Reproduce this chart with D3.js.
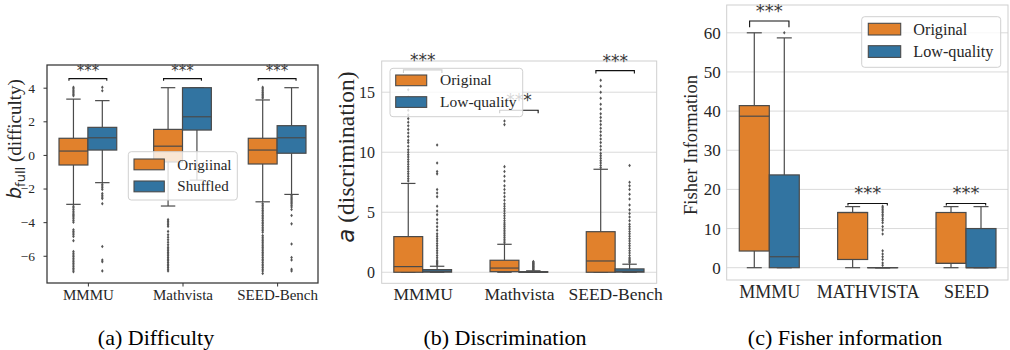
<!DOCTYPE html>
<html>
<head>
<meta charset="utf-8">
<script src="https://cdn.jsdelivr.net/npm/d3@7/dist/d3.min.js"></script>
<style>
  html, body { margin: 0; padding: 0; background: #fff; }
  svg { display: block; }
</style>
</head>
<body>
<svg id="chart"></svg>
<script>
// ---- data ----
// box stats are [whisker low, q1, median, q3, whisker high]

// (a) difficulty
const catsA = ["MMMU", "Mathvista", "SEED-Bench"];
const diffTicks = [-6, -4, -2, 0, 2, 4];
const diffOrig = [
  [-2.94, -0.6, 0.23, 0.99, 3.32],
  [-3.04, -0.42, 0.52, 1.52, 4.0],
  [-2.79, -0.54, 0.29, 0.99, 3.27]
];
const diffShuf = [
  [-1.65, 0.29, 1.02, 1.64, 3.23],
  [-1.5, 1.48, 2.27, 4.0, 4.0],
  [-2.35, 0.1, 1.02, 1.74, 4.0]
];
const diffOrigOut = [
  [4.02, 3.93, 3.85, 3.76, 3.68, 3.6, 3.52, -3.05, -3.15, -3.25, -3.35, -3.45, -3.55, -3.62, -3.7, -3.8, -3.9, -4.0,
   -4.45, -4.55, -4.65, -4.75, -4.85, -5.1, -5.75, -5.85, -5.95, -6.05, -6.15, -6.25, -6.35, -6.45, -6.55,
   -6.65, -6.75, -6.85, -6.95],
  [-3.85, -3.95, -4.05, -4.15, -4.25, -4.55, -4.75, -4.9, -5.05, -5.2, -5.35, -5.5, -5.6, -5.7, -5.8, -5.9,
   -6.0, -6.1, -6.2, -6.3, -6.4, -6.5, -6.6, -6.7, -6.8, -6.9],
  [4.02, 3.93, 3.85, 3.75, 3.68, 3.6, 3.52, 3.45, 3.38, -2.9, -3.0, -3.1, -3.2, -3.3, -3.4, -3.5, -3.6, -3.7,
   -3.8, -3.9, -4.0, -4.1, -4.2, -4.3, -4.4, -4.5, -4.6, -4.8, -4.9, -5.0, -5.1, -5.2, -5.3, -5.4, -5.5,
   -5.6, -5.7, -5.8, -5.9, -6.0, -6.1, -6.2, -6.3, -6.4, -6.5, -6.6, -6.7, -6.8, -6.9, -7.05]
];
const diffShufOut = [
  [4.02, 3.82, -1.75, -1.85, -1.95, -2.05, -2.3, -2.4, -2.5, -2.6, -2.9, -5.45, -6.25, -6.35, -6.9],
  [],
  [-2.42, -2.5, -2.58, -2.66, -2.74, -2.82, -2.9, -3.0, -3.1, -3.25, -3.6, -4.1, -5.3, -6.1, -6.25, -6.8, -6.9]
];
const diffBracket = [[4.54, 4.42], [4.54, 4.42], [4.54, 4.42]];
const diffLegend = ["Origiinal", "Shuffled"];

// (b) discrimination
const catsB = ["MMMU", "Mathvista", "SEED-Bench"];
const discTicks = [0, 5, 10, 15];
const discOrig = [
  [0, 0, 0.47, 2.97, 7.4],
  [0, 0.05, 0.35, 1.0, 2.33],
  [0, 0, 0.94, 3.38, 8.58]
];
const discLow = [
  [0, 0.01, 0.08, 0.22, 0.5],
  [0, 0, 0.01, 0.05, 0.12],
  [0, 0.01, 0.08, 0.28, 0.67]
];
const discOrigOut = [
  [7.6, 7.8, 8.0, 8.2, 8.4, 8.6, 8.8, 9.0, 9.2, 9.4, 9.6, 9.8, 10.0, 10.2, 10.5, 10.8, 11.0, 11.3, 11.6,
   11.9, 12.2, 12.5, 12.8, 13.1, 13.5, 14.0, 14.6, 15.2],
  [2.45, 2.6, 2.75, 2.9, 3.05, 3.2, 3.35, 3.5, 3.65, 3.8, 3.95, 4.1, 4.3, 4.5, 4.7, 4.9, 5.1, 5.3, 5.5, 5.7,
   6.0, 6.3, 6.6, 6.9, 7.2, 7.6, 8.0, 8.4, 8.8, 12.3, 12.6],
  [8.7, 8.9, 9.1, 9.3, 9.5, 9.7, 9.9, 10.2, 10.5, 10.8, 11.1, 11.4, 11.7, 12.0, 12.3, 12.6, 12.9, 13.2,
   13.6, 14.0, 14.5, 15.0, 15.5, 16.0]
];
const discLowOut = [
  [0.6, 0.7, 0.8, 0.9, 1.0, 1.2, 1.4, 1.6, 1.8, 2.0, 2.2, 2.4, 2.6, 2.8, 3.0, 3.2, 3.5, 3.8, 4.1, 4.4, 4.8,
   5.1, 5.5, 6.3, 6.6, 6.9, 8.2, 8.4, 9.1, 10.6],
  [0.15, 0.2, 0.25, 0.3, 0.35, 0.4, 0.45, 0.5, 0.55, 0.6, 0.65, 0.7, 0.75, 0.8, 0.85, 0.9],
  [0.8, 0.9, 1.0, 1.1, 1.2, 1.4, 1.6, 1.8, 2.0, 2.2, 2.4, 2.6, 2.8, 3.0, 3.2, 3.4, 3.6, 3.8, 4.0, 4.3, 4.6,
   4.9, 5.2, 5.6, 6.1, 6.5, 6.9, 7.2, 7.5, 8.9]
];
const discBracket = [[16.86, 16.6], [13.5, 13.25], [16.8, 16.55]];
const qualLegend = ["Original", "Low-quality"];

// (c) fisher information
const catsC = ["MMMU", "MATHVISTA", "SEED"];
const fisherTicks = [0, 10, 20, 30, 40, 50, 60];
const fisherOrig = [
  [0, 4.26, 38.7, 41.4, 60],
  [0, 2.1, 14.1, 14.1, 15.6],
  [0, 1.1, 1.1, 14.1, 15.6]
];
const fisherLow = [
  [0, 0, 2.8, 23.7, 58.7],
  [0, 0, 0, 0, 0],
  [0, 0, 0, 10.0, 15.6]
];
const fisherOrigOut = [[], [], []];
const fisherLowOut = [
  [60.0],
  [15.7, 15.3, 14.9, 14.5, 14.1, 13.6, 13.2, 12.6, 12.1, 11.5, 10.5, 9.6, 8.6, 4.3, 3.5, 2.8, 2.1, 1.2, 0.6],
  []
];
const fisherBracket = [[63.0, 61.4], [16.4, 15.9], [16.4, 15.9]];

const captions = ["(a) Difficulty", "(b) Discrimination", "(c) Fisher information"];

// ---- styling ----
const ORANGE = "#e1812c";
const BLUE = "#3274a1";
const LINE = "#4a4a4a";
const SERIF = "Liberation Serif, Times New Roman, serif";
const SANS = "DejaVu Sans, sans-serif";

const svg = d3.select("#chart").attr("width", 1010).attr("height", 350);
svg.append("rect").attr("width", 1010).attr("height", 350).attr("fill", "#fff");

const panels = [
  {
    cats: catsA, ticks: diffTicks, series: [diffOrig, diffShuf], fliers: [diffOrigOut, diffShufOut],
    brackets: diffBracket, legend: diffLegend,
    left: 47, right: 318, top: 65, bottom: 283, xDomain: [-0.432, 2.432], yDomain: [-7.62, 5.35],
    boxW: 0.305, grid: false, frame: "#333", tickSize: 3.5, tickPad: 8.5, yFont: 13.5, xFont: 15, xBase: 17,
    starFont: 15, starLift: 3,
    leg: { x: 128.3, y: 151.7, w: 109, h: 48.3, px: 134, pw: 30.3, ph: 10.8, tops: [159, 181], tx: 177.3,
           base: [169.5, 191], font: 15 }
  },
  {
    cats: catsB, ticks: discTicks, series: [discOrig, discLow], fliers: [discOrigOut, discLowOut],
    brackets: discBracket, legend: qualLegend,
    left: 381.7, right: 656.7, top: 61, bottom: 283.3, xDomain: [-0.426, 2.432], yDomain: [-0.92, 17.6],
    boxW: 0.3, grid: true, frame: "#cfcfcf", tickSize: 0, tickPad: 6.7, yFont: 16, xFont: 17.5, xBase: 16.7,
    starFont: 17, starLift: 4,
    leg: { x: 390, y: 68.3, w: 132.7, h: 48.4, px: 395.7, pw: 31, ph: 10.7, tops: [75, 96.7], tx: 440,
           base: [85.3, 107], font: 15.5 }
  },
  {
    cats: catsC, ticks: fisherTicks, series: [fisherOrig, fisherLow], fliers: [fisherOrigOut, fisherLowOut],
    brackets: fisherBracket, legend: qualLegend,
    left: 726.7, right: 1008, top: 5, bottom: 280, xDomain: [-0.433, 2.427], yDomain: [-3.14, 67.1],
    boxW: 0.305, grid: true, frame: "#cfcfcf", tickSize: 0, tickPad: 6, yFont: 17, xFont: 18, xBase: 18,
    starFont: 18, starLift: 4,
    leg: { x: 861.7, y: 16.7, w: 139, h: 50.6, px: 868.3, pw: 32.4, ph: 11.7, tops: [23.3, 45.7], tx: 913.3,
           base: [34.7, 57.4], font: 16.2 }
  }
];

const fillColors = [ORANGE, BLUE];

function drawPanel(p) {
  const g = svg.append("g");
  const x = d3.scaleLinear().domain(p.xDomain).range([p.left, p.right]);
  const y = d3.scaleLinear().domain(p.yDomain).range([p.bottom, p.top]);

  if (p.grid) {
    g.append("g").selectAll("line").data(p.ticks).join("line")
      .attr("x1", p.left).attr("x2", p.right)
      .attr("y1", d => y(d)).attr("y2", d => y(d))
      .attr("stroke", "#dadada").attr("stroke-width", 1);
  }

  // boxes, one hue at a time
  p.series.forEach((stats, si) => {
    const color = fillColors[si];
    stats.forEach((s, ci) => {
      const [lo, q1, med, q3, hi] = s;
      const x0 = si === 0 ? ci - p.boxW : ci;
      const x1 = x0 + p.boxW;
      const xc = (x0 + x1) / 2;
      const capL = xc - p.boxW / 4, capR = xc + p.boxW / 4;
      const bg = g.append("g").attr("stroke", LINE).attr("stroke-width", 1.2);

      // whiskers + caps
      bg.append("line").attr("x1", x(xc)).attr("x2", x(xc)).attr("y1", y(q1)).attr("y2", y(lo));
      bg.append("line").attr("x1", x(xc)).attr("x2", x(xc)).attr("y1", y(q3)).attr("y2", y(hi));
      bg.append("line").attr("x1", x(capL)).attr("x2", x(capR)).attr("y1", y(lo)).attr("y2", y(lo));
      bg.append("line").attr("x1", x(capL)).attr("x2", x(capR)).attr("y1", y(hi)).attr("y2", y(hi));

      bg.append("rect")
        .attr("x", x(x0)).attr("width", x(x1) - x(x0))
        .attr("y", y(q3)).attr("height", Math.max(y(q1) - y(q3), 0.01))
        .attr("fill", color);
      bg.append("line").attr("x1", x(x0)).attr("x2", x(x1)).attr("y1", y(med)).attr("y2", y(med));

      // outliers
      g.append("g").selectAll("path").data(p.fliers[si][ci]).join("path")
        .attr("d", "M0,-1.8L1.3,0L0,1.8L-1.3,0Z")
        .attr("transform", d => `translate(${x(xc)},${y(d)})`)
        .attr("fill", "#555");
    });
  });

  // frame
  g.append("rect")
    .attr("x", p.left).attr("y", p.top)
    .attr("width", p.right - p.left).attr("height", p.bottom - p.top)
    .attr("fill", "none").attr("stroke", p.frame).attr("stroke-width", p.grid ? 1 : 1.25);

  // y axis
  const yAxis = g.append("g")
    .attr("transform", `translate(${p.left},0)`)
    .call(d3.axisLeft(y).tickValues(p.ticks).tickSize(p.tickSize).tickPadding(p.tickPad));
  yAxis.select(".domain").remove();
  yAxis.selectAll("line").attr("stroke", "#333");
  yAxis.selectAll("text")
    .style("font-family", SERIF).style("font-size", p.yFont + "px").attr("fill", "#262626");

  // x axis
  const xAxis = g.append("g")
    .attr("transform", `translate(0,${p.bottom})`)
    .call(d3.axisBottom(x).tickValues([0, 1, 2]).tickFormat(i => p.cats[i]).tickSize(p.tickSize));
  xAxis.select(".domain").remove();
  xAxis.selectAll("line").attr("stroke", "#333");
  xAxis.selectAll("text")
    .attr("y", p.xBase).attr("dy", null)
    .style("font-family", SERIF).style("font-size", p.xFont + "px").attr("fill", "#262626");

  // significance brackets
  p.brackets.forEach((b, ci) => {
    const [top, end] = b;
    const xa = x(ci - 0.2), xb = x(ci + 0.2);
    g.append("path")
      .attr("d", `M${xa},${y(end)}L${xa},${y(top)}L${xb},${y(top)}L${xb},${y(end)}`)
      .attr("fill", "none").attr("stroke", "#111").attr("stroke-width", 1.1);
    g.append("text")
      .attr("x", x(ci)).attr("y", y(top) - p.starLift)
      .attr("text-anchor", "middle")
      .style("font-family", SANS).style("font-size", p.starFont + "px").attr("fill", "#3a3a3a")
      .text("***");
  });

  // legend
  const L = p.leg;
  const lg = g.append("g");
  lg.append("rect")
    .attr("x", L.x).attr("y", L.y).attr("width", L.w).attr("height", L.h).attr("rx", 3)
    .attr("fill", "#fff").attr("fill-opacity", 0.8).attr("stroke", "#d0d0d0");
  p.legend.forEach((name, i) => {
    lg.append("rect")
      .attr("x", L.px).attr("y", L.tops[i]).attr("width", L.pw).attr("height", L.ph)
      .attr("fill", fillColors[i]).attr("stroke", LINE).attr("stroke-width", 1.1);
    lg.append("text")
      .attr("x", L.tx).attr("y", L.base[i])
      .style("font-family", SERIF).style("font-size", L.font + "px").attr("fill", "#262626")
      .text(name);
  });
}

panels.forEach(drawPanel);

// y labels
const ya = svg.append("text")
  .attr("transform", "translate(21,139) rotate(-90)")
  .attr("text-anchor", "middle").attr("fill", "#262626");
ya.append("tspan").style("font-family", SANS).style("font-style", "italic").style("font-size", "19px").text("b");
ya.append("tspan").style("font-family", SANS).style("font-size", "13px").attr("dy", 4).text("full");
ya.append("tspan").style("font-family", SERIF).style("font-size", "19px").attr("dy", -4).text(" (difficulty)");

const yb = svg.append("text")
  .attr("transform", "translate(354,157) rotate(-90)")
  .attr("text-anchor", "middle").attr("fill", "#262626");
yb.append("tspan").style("font-family", SANS).style("font-style", "italic").style("font-size", "23px").text("a");
yb.append("tspan").style("font-family", SERIF).style("font-size", "23.5px").text(" (discrimination)");

svg.append("text")
  .attr("transform", "translate(697,145) rotate(-90)")
  .attr("text-anchor", "middle").attr("fill", "#262626")
  .style("font-family", SERIF).style("font-size", "18.6px")
  .text("Fisher Information");

// captions
const captionX = [156, 505, 845];
svg.selectAll("text.caption").data(captions).join("text")
  .attr("class", "caption")
  .attr("x", (d, i) => captionX[i]).attr("y", 345)
  .attr("text-anchor", "middle")
  .style("font-family", SERIF).style("font-size", "22px").attr("fill", "#000")
  .text(d => d);
</script>
</body>
</html>
